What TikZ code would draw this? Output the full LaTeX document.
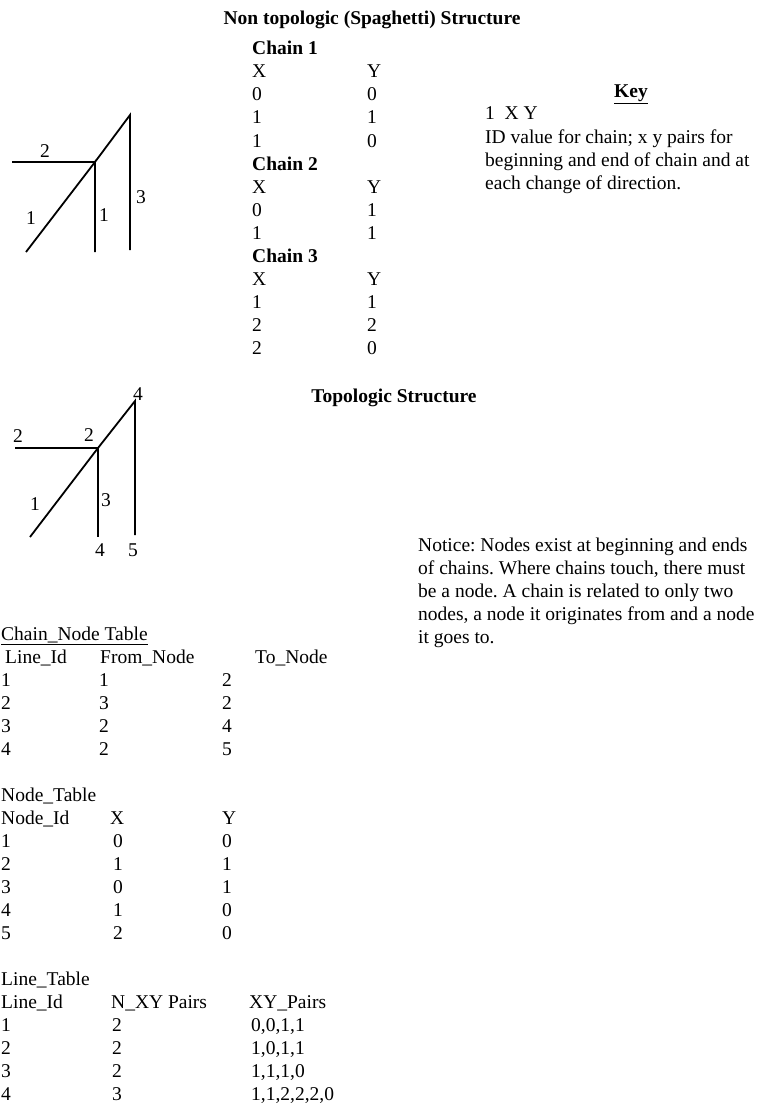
\documentclass[tikz,border=0pt]{standalone}
\usepackage{fontspec}
\setmainfont{Liberation Serif}
\frenchspacing
\newcommand{\docfont}{\fontsize{19.5pt}{23pt}\selectfont}

\begin{document}
\begin{tikzpicture}[
x=1pt, y=-1pt,
txt/.style={anchor=base west, inner sep=0pt, font=\docfont},
bold/.style={txt, font=\docfont\bfseries},
head/.style={anchor=base, inner sep=0pt, font=\docfont\bfseries},
lbl/.style={inner sep=0pt, font=\docfont},
chain/.style={line width=1.8pt}
]
\useasboundingbox (0,0) rectangle (767,1105);

\node[head] (spagtitle) at (372,25) {Non topologic (Spaghetti) Structure};

\foreach \k/\n in {0/1,5/2,9/3}
  \node[bold] (chain\n) at (252,55+23*\k) {Chain \n};
\foreach \k/\a/\b in {1/X/Y,2/0/0,3/1/1,4/1/0,6/X/Y,7/0/1,8/1/1,10/X/Y,11/1/1,12/2/2,13/2/0} {
  \node[txt] (sx\k) at (252,55+23*\k) {\a};
  \node[txt] (sy\k) at (367,55+23*\k) {\b};
}

\node[head] (key) at (631,98) {\underline{Key}};
\foreach \t [count=\i from 0] in {{1\ \ X Y},{ID value for chain; x y pairs for},{beginning and end of chain and at},{each change of direction.}}
  \node[txt] (key\i) at (485,120+23*\i) {\t};

\coordinate (sp0) at (26,252);
\coordinate (sp1) at (95,162);
\coordinate (sp2) at (130,115);
\coordinate (sp3) at (12,162);
\coordinate (sp4) at (95,252);
\coordinate (sp5) at (130,250);
\draw[chain] (sp0) -- (sp1) -- (sp4);
\draw[chain] (sp3) -- (sp1);
\draw[chain] (sp1) -- (sp2) -- (sp5);
\node[lbl] (splbl2) at (45,151) {2};
\node[lbl] (splbl1a) at (31,218) {1};
\node[lbl] (splbl1b) at (104,215) {1};
\node[lbl] (splbl3) at (141,197) {3};

\node[head] (topotitle) at (394,402) {Topologic Structure};

\coordinate (tp0) at (30,537);
\coordinate (tp1) at (98,448);
\coordinate (tp2) at (135,401);
\coordinate (tp3) at (15,448);
\coordinate (tp4) at (98,537);
\coordinate (tp5) at (135,535);
\draw[chain] (tp0) -- (tp1);
\draw[chain] (tp3) -- (tp1);
\draw[chain] (tp1) -- (tp4);
\draw[chain] (tp1) -- (tp2) -- (tp5);
\node[lbl] (tplbl4a) at (138,394) {4};
\node[lbl] (tplbl2a) at (18,436) {2};
\node[lbl] (tplbl2b) at (89,435) {2};
\node[lbl] (tplbl1) at (35,504) {1};
\node[lbl] (tplbl3) at (106,500) {3};
\node[lbl] (tplbl4b) at (100,550) {4};
\node[lbl] (tplbl5) at (133,550) {5};

\foreach \t [count=\i from 0] in {{Notice: Nodes exist at beginning and ends},{of chains. Where chains touch, there must},{be a node. A chain is related to only two},{nodes, a node it originates from and a node},{it goes to.}}
  \node[txt] (notice\i) at (418,551+23*\i) {\t};

\node[txt] (cntitle) at (1,640) {\underline{Chain\_Node Table}};
\node[txt] (cnhead1) at (5,663) {Line\_Id};
\node[txt] (cnhead2) at (100,663) {From\_Node};
\node[txt] (cnhead3) at (255,663) {To\_Node};
\foreach \a/\b/\c [count=\i] in {1/1/2,2/3/2,3/2/4,4/2/5} {
  \node[txt] (cna\i) at (1,663+23*\i) {\a};
  \node[txt] (cnb\i) at (99,663+23*\i) {\b};
  \node[txt] (cnc\i) at (222,663+23*\i) {\c};
}

\node[txt] (ndtitle) at (1,801) {Node\_Table};
\node[txt] (ndhead1) at (1,824) {Node\_Id};
\node[txt] (ndhead2) at (110,824) {X};
\node[txt] (ndhead3) at (222,824) {Y};
\foreach \a/\b/\c [count=\i] in {1/0/0,2/1/1,3/0/1,4/1/0,5/2/0} {
  \node[txt] (nda\i) at (1,824+23*\i) {\a};
  \node[txt] (ndb\i) at (113,824+23*\i) {\b};
  \node[txt] (ndc\i) at (222,824+23*\i) {\c};
}

\node[txt] (lntitle) at (1,985) {Line\_Table};
\node[txt] (lnhead1) at (1,1008) {Line\_Id};
\node[txt] (lnhead2) at (111,1008) {N\_XY Pairs};
\node[txt] (lnhead3) at (249,1008) {XY\_Pairs};
\foreach \a/\b/\c [count=\i] in {1/2/{0,0,1,1},2/2/{1,0,1,1},3/2/{1,1,1,0},4/3/{1,1,2,2,2,0}} {
  \node[txt] (lna\i) at (1,1008+23*\i) {\a};
  \node[txt] (lnb\i) at (112,1008+23*\i) {\b};
  \node[txt] (lnc\i) at (251,1008+23*\i) {\c};
}
\end{tikzpicture}
\end{document}
